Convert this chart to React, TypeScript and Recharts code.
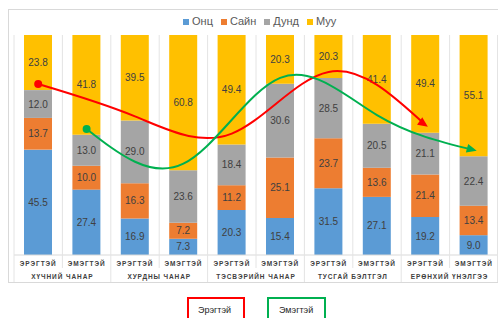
import React from 'react';
import { ComposedChart, Bar, Line, XAxis, YAxis, LabelList } from 'recharts';

// categories
const sexLabels = ['ЭРЭГТЭЙ', 'ЭМЭГТЭЙ', 'ЭРЭГТЭЙ', 'ЭМЭГТЭЙ', 'ЭРЭГТЭЙ', 'ЭМЭГТЭЙ', 'ЭРЭГТЭЙ', 'ЭМЭГТЭЙ', 'ЭРЭГТЭЙ', 'ЭМЭГТЭЙ'];
const groupLabels = ['ХҮЧНИЙ ЧАНАР', 'ХУРДНЫ ЧАНАР', 'ТЭСВЭРИЙН ЧАНАР', 'ТУСГАЙ БЭЛТГЭЛ', 'ЕРӨНХИЙ ҮНЭЛГЭЭ'];

// series values (percent)
const onts = [45.5, 27.4, 16.9, 7.3, 20.3, 15.4, 31.5, 27.1, 19.2, 9.0];
const sain = [13.7, 10.0, 16.3, 7.2, 11.2, 25.1, 23.7, 13.6, 21.4, 13.4];
const dund = [12.0, 13.0, 29.0, 23.6, 18.4, 30.6, 28.5, 20.5, 21.1, 22.4];
const muu = [23.8, 41.8, 39.5, 60.8, 49.4, 20.3, 20.3, 41.4, 49.4, 55.1];

// hand-drawn trend arrows (height as share of the 100% bar)
const maleTrend = [0.777, null, 0.63, null, 0.552, null, 0.832, null, 0.591, null];
const femaleTrend = [null, 0.573, null, 0.415, null, 0.805, null, 0.636, null, 0.477];

const data = sexLabels.map((sex, i) => ({
  sex,
  group: groupLabels[Math.floor(i / 2)],
  onts: onts[i],
  sain: sain[i],
  dund: dund[i],
  muu: muu[i],
  male: maleTrend[i],
  female: femaleTrend[i],
}));

const FONT = '"Liberation Sans", Arial, sans-serif';
const W = 498;
const H = 318;
const PLOT_LEFT = 14;
const PLOT_TOP = 35;
const PLOT_BOTTOM = 255;
const AXIS_H = 30;
const BAND = (W - PLOT_LEFT) / sexLabels.length;
const margin = { top: PLOT_TOP, left: PLOT_LEFT, right: 0, bottom: H - PLOT_BOTTOM - AXIS_H };

const colors = { onts: '#5B9BD5', sain: '#ED7D31', dund: '#A5A5A5', muu: '#FFC000' };

const AxisTick = (props: any) => {
  const { x, index } = props;
  const left = x - BAND / 2;
  const isFirst = index % 2 === 0;
  return (
    <g>
      <line x1={left} x2={left} y1={PLOT_TOP} y2={isFirst ? 282 : 268} stroke="#E4E4E4" strokeWidth={1} />
      {index === sexLabels.length - 1 && (
        <line x1={x + BAND / 2 - 0.5} x2={x + BAND / 2 - 0.5} y1={PLOT_TOP} y2={282} stroke="#E4E4E4" strokeWidth={1} />
      )}
      <text x={x} y={PLOT_BOTTOM + 11} textAnchor="middle" fontSize={6.5} fontWeight="bold" letterSpacing={0.9} fill="#404040" fontFamily={FONT}>
        {sexLabels[index]}
      </text>
      {isFirst && (
        <text x={x + BAND / 2} y={PLOT_BOTTOM + 24} textAnchor="middle" fontSize={6.5} fontWeight="bold" letterSpacing={0.9} fill="#404040" fontFamily={FONT}>
          {groupLabels[index / 2]}
        </text>
      )}
    </g>
  );
};

const makeDot = (color: string, first: number, last: number, angle: number) => (p: any) => {
  const { cx, cy, index, value } = p;
  if (value == null || cy == null || isNaN(cy)) return <g key={`d-${index}`} />;
  if (index === first) return <circle key={`d-${index}`} cx={cx} cy={cy} r={4} fill={color} />;
  if (index === last)
    return (
      <path
        key={`d-${index}`}
        d="M3,0 L-7,-4.5 L-7,4.5 Z"
        fill={color}
        transform={`translate(${cx},${cy}) rotate(${angle})`}
      />
    );
  return <g key={`d-${index}`} />;
};

const fmt = (v: any) => Number(v).toFixed(1);

const legendItems = [
  { key: 'onts', name: 'Онц' },
  { key: 'sain', name: 'Сайн' },
  { key: 'dund', name: 'Дунд' },
  { key: 'muu', name: 'Муу' },
];

const App = () => {
  return (
    <div style={{ position: 'absolute', left: 0, top: 0, width: W, height: H, overflow: 'hidden', background: '#fff', fontFamily: FONT }}>
      <div style={{ position: 'absolute', left: 8, top: 9, width: 500, height: 272, border: '1px solid #D9D9D9' }} />
      <div style={{ position: 'absolute', left: 183, top: 15, display: 'flex', gap: 8, fontSize: 11, color: '#595959', lineHeight: '13px' }}>
        {legendItems.map((it) => (
          <div key={it.key} style={{ display: 'flex', alignItems: 'center' }}>
            <span style={{ display: 'inline-block', width: 6, height: 6, background: (colors as any)[it.key], marginRight: 3 }} />
            {it.name}
          </div>
        ))}
      </div>

      {/* stacked 100% bars */}
      <div style={{ position: 'absolute', left: 0, top: 0 }}>
        <ComposedChart width={W} height={H} data={data} stackOffset="expand" margin={margin}>
          <XAxis
            dataKey="sex"
            height={AXIS_H}
            interval={0}
            tickLine={false}
            tickSize={0}
            tickMargin={0}
            axisLine={{ stroke: '#D9D9D9' }}
            tick={<AxisTick />}
          />
          <YAxis hide domain={[0, 1]} />
          <Bar dataKey="onts" stackId="a" fill={colors.onts} barSize={28} isAnimationActive={false}>
            <LabelList dataKey="onts" position="center" formatter={fmt} fontSize={10} fill="#404040" fontFamily={FONT} />
          </Bar>
          <Bar dataKey="sain" stackId="a" fill={colors.sain} barSize={28} isAnimationActive={false}>
            <LabelList dataKey="sain" position="center" formatter={fmt} fontSize={10} fill="#404040" fontFamily={FONT} />
          </Bar>
          <Bar dataKey="dund" stackId="a" fill={colors.dund} barSize={28} isAnimationActive={false}>
            <LabelList dataKey="dund" position="center" formatter={fmt} fontSize={10} fill="#404040" fontFamily={FONT} />
          </Bar>
          <Bar dataKey="muu" stackId="a" fill={colors.muu} barSize={28} isAnimationActive={false}>
            <LabelList dataKey="muu" position="center" formatter={fmt} fontSize={10} fill="#404040" fontFamily={FONT} />
          </Bar>
        </ComposedChart>
      </div>

      {/* trend arrows drawn over the bars */}
      <div style={{ position: 'absolute', left: 0, top: 0 }}>
        <ComposedChart width={W} height={H} data={data} margin={margin}>
          <XAxis
            dataKey="sex"
            height={AXIS_H}
            interval={0}
            tick={false}
            tickLine={false}
            axisLine={false}
            padding={{ left: BAND / 2, right: BAND / 2 }}
          />
          <YAxis hide domain={[0, 1]} />
          <Line
            dataKey="male"
            type="natural"
            connectNulls
            stroke="#FF0000"
            strokeWidth={2}
            dot={makeDot('#FF0000', 0, 8, 35)}
            activeDot={false}
            isAnimationActive={false}
          />
          <Line
            dataKey="female"
            type="natural"
            connectNulls
            stroke="#00B050"
            strokeWidth={2}
            dot={makeDot('#00B050', 1, 9, 15)}
            activeDot={false}
            isAnimationActive={false}
          />
        </ComposedChart>
      </div>

      <div style={{ position: 'absolute', left: 187, top: 297, width: 58, height: 24, border: '2px solid #FF0000', fontSize: 9, color: '#262626', paddingLeft: 9, paddingTop: 6, boxSizing: 'border-box' }}>
        Эрэгтэй
      </div>
      <div style={{ position: 'absolute', left: 267, top: 297, width: 59, height: 24, border: '2px solid #00B050', fontSize: 9, color: '#262626', paddingLeft: 10, paddingTop: 6, boxSizing: 'border-box' }}>
        Эмэгтэй
      </div>
    </div>
  );
};

export default App;
